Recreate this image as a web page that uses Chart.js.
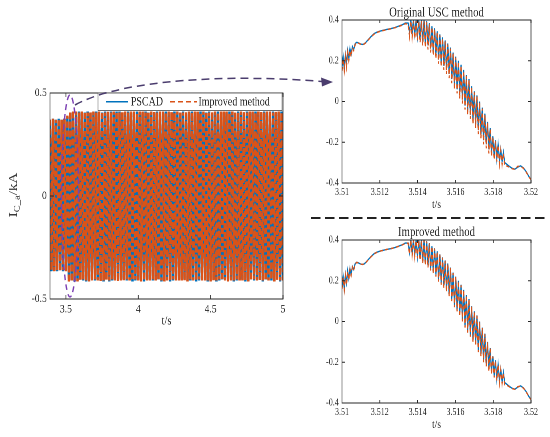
<!DOCTYPE html>
<html>
<head>
<meta charset="utf-8">
<script src="https://cdn.jsdelivr.net/npm/chart.js@4.4.1/dist/chart.umd.min.js"></script>
<style>
  html, body { margin: 0; padding: 0; background: #fff; }
  #page { position: relative; width: 550px; height: 437px; overflow: hidden; }
  .box { position: absolute; }
  .inner { transform: scaleX(0.8); transform-origin: 0 0; }
  svg { position: absolute; left: 0; top: 0; }
</style>
</head>
<body>
<div id="page">
  <div class="box" style="left:0;top:80px"><div class="inner"><canvas id="left" width="375" height="260"></canvas></div></div>
  <div class="box" style="left:290px;top:0"><div class="inner"><canvas id="zoomTop" width="325" height="218"></canvas></div></div>
  <div class="box" style="left:290px;top:220px"><div class="inner"><canvas id="zoomBottom" width="325" height="217"></canvas></div></div>
  <svg width="550" height="437">
    <ellipse cx="70" cy="196" rx="8.5" ry="101" fill="none" stroke="#7b3fb3" stroke-width="1.4" stroke-dasharray="6 4"/>
    <path d="M75,105 C110,85 200,72 322,81.5" fill="none" stroke="#4b3d6e" stroke-width="1.5" stroke-dasharray="8 5"/>
    <polygon points="333,82 321,77.5 322,86.5" fill="#4b3d6e"/>
    <line x1="311" y1="218" x2="545" y2="218" stroke="#222" stroke-width="2" stroke-dasharray="9.5 4.5"/>
  </svg>
</div>
<script>
// ---- left panel: full waveform ----
const leftTime = [
  3.39,3.40,3.41,3.42,3.43,3.44,3.45,3.46,3.47,3.48,
  3.49,3.50,3.51,3.52,3.53,3.54,3.55,3.56,3.57,3.58,
  3.59,3.60,3.61,3.62,3.63,3.64,3.65,3.66,3.67,3.68,
  3.69,3.70,3.71,3.72,3.73,3.74,3.75,3.76,3.77,3.78,
  3.79,3.80,3.81,3.82,3.83,3.84,3.85,3.86,3.87,3.88,
  3.89,3.90,3.91,3.92,3.93,3.94,3.95,3.96,3.97,3.98,
  3.99,4.00,4.01,4.02,4.03,4.04,4.05,4.06,4.07,4.08,
  4.09,4.10,4.11,4.12,4.13,4.14,4.15,4.16,4.17,4.18,
  4.19,4.20,4.21,4.22,4.23,4.24,4.25,4.26,4.27,4.28,
  4.29,4.30,4.31,4.32,4.33,4.34,4.35,4.36,4.37,4.38,
  4.39,4.40,4.41,4.42,4.43,4.44,4.45,4.46,4.47,4.48,
  4.49,4.50,4.51,4.52,4.53,4.54,4.55,4.56,4.57,4.58,
  4.59,4.60,4.61,4.62,4.63,4.64,4.65,4.66,4.67,4.68,
  4.69,4.70,4.71,4.72,4.73,4.74,4.75,4.76,4.77,4.78,
  4.79,4.80,4.81,4.82,4.83,4.84,4.85,4.86,4.87,4.88,
  4.89,4.90,4.91,4.92,4.93,4.94,4.95,4.96,4.97,4.98,
  4.99,5.00
];
const leftPscad = [
  0.37,-0.365,0.375,-0.36,0.37,-0.365,0.375,-0.36,0.37,-0.365,
  0.375,-0.36,0.385,-0.415,0.405,-0.41,0.41,-0.415,0.405,-0.41,
  0.41,-0.405,0.405,-0.41,0.405,-0.415,0.41,-0.41,0.405,-0.405,
  0.405,-0.41,0.41,-0.405,0.405,-0.41,0.405,-0.415,0.41,-0.405,
  0.405,-0.415,0.41,-0.41,0.405,-0.405,0.41,-0.41,0.41,-0.405,
  0.405,-0.405,0.405,-0.41,0.41,-0.405,0.405,-0.415,0.405,-0.41,
  0.41,-0.405,0.405,-0.41,0.405,-0.415,0.41,-0.405,0.405,-0.405,
  0.405,-0.41,0.405,-0.405,0.41,-0.405,0.405,-0.415,0.405,-0.41,
  0.41,-0.405,0.405,-0.415,0.405,-0.41,0.41,-0.405,0.405,-0.405,
  0.405,-0.405,0.41,-0.405,0.405,-0.41,0.405,-0.41,0.41,-0.405,
  0.405,-0.415,0.405,-0.41,0.41,-0.405,0.405,-0.405,0.405,-0.415,
  0.41,-0.41,0.405,-0.405,0.405,-0.415,0.41,-0.41,0.405,-0.405,
  0.405,-0.405,0.405,-0.41,0.41,-0.405,0.405,-0.415,0.405,-0.41,
  0.41,-0.405,0.405,-0.405,0.405,-0.415,0.41,-0.41,0.405,-0.405,
  0.405,-0.41,0.41,-0.405,0.405,-0.405,0.405,-0.415,0.41,-0.405,
  0.405,-0.405,0.405,-0.41,0.41,-0.41,0.405,-0.405,0.405,-0.415,
  0.41,-0.405
];
const leftImproved = [
  0.37,-0.36,0.375,-0.365,0.37,-0.36,0.375,-0.365,0.37,-0.36,
  0.375,-0.365,0.39,-0.42,0.41,-0.415,0.415,-0.41,0.41,-0.415,
  0.405,-0.41,0.41,-0.405,0.41,-0.41,0.405,-0.415,0.41,-0.41,
  0.41,-0.405,0.405,-0.41,0.41,-0.415,0.41,-0.41,0.405,-0.41,
  0.41,-0.41,0.405,-0.405,0.41,-0.41,0.41,-0.415,0.405,-0.41,
  0.41,-0.41,0.41,-0.405,0.405,-0.41,0.41,-0.41,0.41,-0.405,
  0.405,-0.41,0.41,-0.415,0.41,-0.41,0.405,-0.41,0.41,-0.41,
  0.41,-0.405,0.41,-0.41,0.405,-0.41,0.41,-0.41,0.41,-0.415,
  0.405,-0.41,0.41,-0.41,0.41,-0.405,0.405,-0.41,0.41,-0.41,
  0.41,-0.41,0.405,-0.41,0.41,-0.415,0.41,-0.405,0.405,-0.41,
  0.41,-0.41,0.41,-0.405,0.405,-0.41,0.41,-0.41,0.41,-0.41,
  0.405,-0.415,0.41,-0.41,0.41,-0.41,0.405,-0.405,0.41,-0.41,
  0.41,-0.41,0.41,-0.415,0.405,-0.41,0.41,-0.41,0.41,-0.405,
  0.405,-0.41,0.41,-0.41,0.41,-0.41,0.405,-0.415,0.41,-0.41,
  0.41,-0.405,0.405,-0.41,0.41,-0.41,0.41,-0.41,0.405,-0.41,
  0.41,-0.41,0.41,-0.405,0.405,-0.415,0.41,-0.41,0.41,-0.41,
  0.405,-0.41
];
const leftXTicks = [3.5, 4, 4.5, 5];
const leftXLabels = ['3.5', '4', '4.5', '5'];
const leftYTicks = [-0.5, 0, 0.5];
const leftYLabels = ['-0.5', '0', '0.5'];

// ---- right panels: zoom 3.51 - 3.52 s ----
const zoomTime = [
  3.51000,3.51006,3.51012,3.51018,3.51024,3.51030,3.51036,3.51042,3.51048,3.51055,
  3.51062,3.51070,3.51078,3.51086,3.51094,3.51102,3.51110,3.51118,3.51128,3.51140,
  3.51155,3.51170,3.51185,3.51200,3.51220,3.51240,3.51260,3.51280,3.51300,3.51320,
  3.51335,
  3.51350,3.51357,3.51364,3.51371,3.51378,3.51385,3.51392,3.51399,3.51406,3.51413,
  3.51420,3.51427,3.51434,3.51441,3.51448,3.51455,3.51462,3.51469,3.51476,3.51483,
  3.51490,3.51497,3.51504,3.51511,3.51518,3.51525,3.51532,3.51539,3.51546,3.51553,
  3.51560,3.51567,3.51574,3.51581,3.51588,3.51595,3.51602,3.51609,3.51616,3.51623,
  3.51630,3.51637,3.51644,3.51651,3.51658,3.51665,3.51672,3.51679,3.51686,3.51693,
  3.51700,3.51707,3.51714,3.51721,3.51728,3.51735,3.51742,3.51749,3.51756,3.51763,
  3.51770,3.51777,3.51784,3.51791,3.51798,3.51805,3.51812,3.51819,3.51826,3.51833,
  3.51840,3.51847,3.51854,3.51861,3.51868,
  3.51885,3.51900,3.51915,3.51930,3.51945,3.51960,3.51975,3.51990,3.52000
];
const zoomPscad = [
  0.17,0.22,0.16,0.23,0.19,0.25,0.21,0.26,0.23,0.27,
  0.255,0.285,0.29,0.288,0.284,0.281,0.280,0.283,0.292,0.305,
  0.320,0.333,0.340,0.345,0.350,0.354,0.358,0.363,0.370,0.377,
  0.385,
  0.385,0.34,0.40,0.335,0.40,0.33,0.40,0.32,0.40,0.31,
  0.40,0.295,0.40,0.285,0.395,0.275,0.385,0.26,0.37,0.245,
  0.36,0.23,0.345,0.205,0.33,0.19,0.315,0.175,0.30,0.155,
  0.285,0.135,0.265,0.11,0.24,0.08,0.22,0.06,0.20,0.035,
  0.18,0.01,0.155,-0.02,0.13,-0.045,0.11,-0.065,0.075,-0.09,
  0.05,-0.11,0.03,-0.14,0.0,-0.16,-0.03,-0.19,-0.06,-0.21,
  -0.10,-0.235,-0.13,-0.25,-0.17,-0.265,-0.19,-0.28,-0.21,-0.29,
  -0.235,-0.295,-0.25,-0.30,-0.305,
  -0.318,-0.328,-0.332,-0.322,-0.316,-0.326,-0.345,-0.37,-0.382
];
const zoomOriginal = [
  0.15,0.21,0.15,0.22,0.17,0.24,0.20,0.25,0.22,0.265,
  0.25,0.28,0.29,0.287,0.283,0.280,0.279,0.282,0.290,0.303,
  0.318,0.331,0.339,0.344,0.349,0.353,0.357,0.362,0.368,0.375,
  0.382,
  0.38,0.32,0.395,0.315,0.395,0.31,0.395,0.30,0.395,0.29,
  0.395,0.275,0.395,0.265,0.39,0.255,0.38,0.24,0.365,0.225,
  0.355,0.21,0.34,0.185,0.325,0.17,0.31,0.155,0.295,0.135,
  0.28,0.115,0.26,0.09,0.235,0.06,0.215,0.04,0.195,0.015,
  0.175,-0.01,0.15,-0.04,0.125,-0.065,0.105,-0.085,0.07,-0.11,
  0.045,-0.13,0.025,-0.16,-0.005,-0.18,-0.035,-0.21,-0.065,-0.23,
  -0.105,-0.255,-0.135,-0.27,-0.175,-0.285,-0.195,-0.295,-0.215,-0.305,
  -0.24,-0.31,-0.255,-0.315,-0.315,
  -0.322,-0.33,-0.333,-0.318,-0.318,-0.328,-0.347,-0.372,-0.383
];
const zoomImproved = [
  0.16,0.215,0.155,0.225,0.18,0.245,0.205,0.255,0.225,0.268,
  0.252,0.283,0.29,0.288,0.284,0.281,0.280,0.283,0.291,0.304,
  0.319,0.332,0.340,0.345,0.350,0.354,0.358,0.363,0.369,0.376,
  0.384,
  0.384,0.33,0.40,0.325,0.398,0.32,0.398,0.31,0.398,0.30,
  0.398,0.285,0.398,0.275,0.393,0.265,0.383,0.25,0.368,0.235,
  0.358,0.22,0.343,0.195,0.328,0.18,0.313,0.165,0.298,0.145,
  0.283,0.125,0.263,0.10,0.238,0.07,0.218,0.05,0.198,0.025,
  0.178,0.0,0.153,-0.03,0.128,-0.055,0.108,-0.075,0.073,-0.10,
  0.048,-0.12,0.028,-0.15,-0.002,-0.17,-0.032,-0.20,-0.062,-0.22,
  -0.102,-0.245,-0.132,-0.26,-0.172,-0.275,-0.192,-0.29,-0.212,-0.30,
  -0.237,-0.305,-0.252,-0.31,-0.31,
  -0.32,-0.329,-0.333,-0.32,-0.317,-0.327,-0.346,-0.371,-0.383
];
const zoomXTicks = [3.51, 3.512, 3.514, 3.516, 3.518, 3.52];
const zoomXLabels = ['3.51', '3.512', '3.514', '3.516', '3.518', '3.52'];
const zoomYTicks = [-0.4, -0.2, 0, 0.2, 0.4];
const zoomYLabels = ['-0.4', '-0.2', '0', '0.2', '0.4'];

const BLUE = '#0072BD';
const ORANGE = '#D95319';
const INK = '#262626';
const SERIF = '"Liberation Serif", "Times New Roman", serif';

function pts(xs, ys) {
  return xs.map((x, i) => ({ x: x, y: ys[i] }));
}

// box, inward ticks, titles and legend drawn on top of the data
function framePlugin(cfg) {
  return {
    id: 'frame',
    afterDatasetsDraw(chart) {
      const ctx = chart.ctx, a = chart.chartArea;
      const xs = chart.scales.x, ys = chart.scales.y;
      ctx.save();
      ctx.setLineDash([]);
      ctx.strokeStyle = INK;
      ctx.lineWidth = 1;
      ctx.strokeRect(a.left, a.top, a.right - a.left, a.bottom - a.top);
      ctx.beginPath();
      xs.ticks.forEach(t => {
        const p = xs.getPixelForValue(t.value);
        ctx.moveTo(p, a.bottom); ctx.lineTo(p, a.bottom - cfg.tick);
        ctx.moveTo(p, a.top); ctx.lineTo(p, a.top + cfg.tick);
      });
      ys.ticks.forEach(t => {
        const p = ys.getPixelForValue(t.value);
        ctx.moveTo(a.left, p); ctx.lineTo(a.left + cfg.tick / 0.8, p);
        ctx.moveTo(a.right, p); ctx.lineTo(a.right - cfg.tick / 0.8, p);
      });
      ctx.stroke();

      ctx.fillStyle = INK;
      ctx.textAlign = 'center';
      ctx.textBaseline = 'middle';
      const cx = (a.left + a.right) / 2;
      if (cfg.title) {
        ctx.font = cfg.title.size + 'px ' + SERIF;
        ctx.fillText(cfg.title.text, cx, cfg.title.y);
      }
      if (cfg.xTitle) {
        ctx.font = cfg.xTitle.size + 'px ' + SERIF;
        ctx.fillText(cfg.xTitle.text, cx, cfg.xTitle.y);
      }
      if (cfg.yTitle) {
        const yt = cfg.yTitle;
        ctx.save();
        ctx.fillStyle = '#3a3a3a';
        ctx.translate(yt.x, yt.y);
        ctx.rotate(-Math.PI / 2);
        ctx.textAlign = 'left';
        ctx.textBaseline = 'alphabetic';
        let w = 0;
        yt.parts.forEach(p => { ctx.font = p.size + 'px ' + SERIF; w += ctx.measureText(p.text).width; });
        let x = -w / 2;
        yt.parts.forEach(p => {
          ctx.font = p.size + 'px ' + SERIF;
          ctx.fillText(p.text, x, p.dy);
          x += ctx.measureText(p.text).width;
        });
        ctx.restore();
      }
      if (cfg.legend) {
        const L = cfg.legend;
        ctx.fillStyle = '#fff';
        ctx.fillRect(L.x, L.y, L.w, L.h);
        ctx.strokeStyle = '#444';
        ctx.lineWidth = 0.8;
        ctx.strokeRect(L.x, L.y, L.w, L.h);
        const my = L.y + L.h / 2;
        chart.data.datasets.forEach((ds, i) => {
          const it = L.items[i];
          ctx.strokeStyle = ds.borderColor;
          ctx.lineWidth = 1.5;
          ctx.setLineDash(it.dash);
          ctx.beginPath(); ctx.moveTo(it.x0, my); ctx.lineTo(it.x1, my); ctx.stroke();
          ctx.setLineDash([]);
          ctx.fillStyle = INK;
          ctx.font = L.size + 'px ' + SERIF;
          ctx.textAlign = 'left';
          ctx.fillText(ds.label, it.tx, my + 0.5);
        });
      }
      ctx.restore();
    }
  };
}

function makeChart(id, o) {
  const font = { family: SERIF, size: o.tickSize };
  return new Chart(document.getElementById(id), {
    type: 'line',
    data: {
      datasets: [
        { label: 'PSCAD', data: pts(o.time, o.blue), borderColor: BLUE, borderWidth: o.lw,
          pointRadius: 0, tension: 0, order: 2 },
        { label: 'Improved method', data: pts(o.time, o.orange), borderColor: ORANGE, borderWidth: o.lw,
          borderDash: o.dash, pointRadius: 0, tension: 0, order: 1 }
      ]
    },
    options: {
      responsive: false,
      animation: false,
      devicePixelRatio: 2,
      events: [],
      layout: { padding: o.padding },
      plugins: { legend: { display: false }, tooltip: { enabled: false } },
      scales: {
        x: {
          type: 'linear', min: o.xMin, max: o.xMax,
          afterFit: s => { s.height = o.xHeight; },
          afterBuildTicks: s => { s.ticks = o.xTicks.map(v => ({ value: v })); },
          grid: { display: false, drawTicks: false },
          border: { display: false },
          ticks: { padding: o.xPad, font: font, color: INK, autoSkip: false, maxRotation: 0,
                   callback: (v, i) => o.xLabels[i] }
        },
        y: {
          type: 'linear', min: o.yMin, max: o.yMax,
          afterFit: s => { s.width = o.yWidth; },
          afterBuildTicks: s => { s.ticks = o.yTicks.map(v => ({ value: v })); },
          grid: { display: false, drawTicks: false },
          border: { display: false },
          ticks: { padding: 4, font: font, color: INK, autoSkip: false,
                   callback: (v, i) => o.yLabels[i] }
        }
      }
    },
    plugins: [framePlugin(o.frame)]
  });
}

makeChart('left', {
  time: leftTime, blue: leftPscad, orange: leftImproved,
  lw: 3, dash: [6, 3], tickSize: 12,
  xMin: 3.39, xMax: 5, yMin: -0.5, yMax: 0.5,
  xTicks: leftXTicks, xLabels: leftXLabels, yTicks: leftYTicks, yLabels: leftYLabels,
  padding: { left: 0, top: 13, right: 21.25, bottom: 0 }, xHeight: 41, yWidth: 62.5, xPad: 3,
  frame: {
    tick: 4,
    xTitle: { text: 't/s', size: 13, y: 241 },
    yTitle: { x: 21, y: 115, parts: [
      { text: 'I', size: 15, dy: 0 },
      { text: 'C_a', size: 10.5, dy: 3.5 },
      { text: '/kA', size: 15, dy: 0 }
    ] },
    legend: { x: 122.5, y: 13, w: 230, h: 17.5, size: 12.5, items: [
      { x0: 132.5, x1: 160, tx: 163.5, dash: [] },
      { x0: 212.5, x1: 246, tx: 248, dash: [6, 4] }
    ] }
  }
});

const zoomCommon = {
  time: zoomTime, blue: zoomPscad,
  lw: 1.4, dash: [4, 3], tickSize: 10,
  xMin: 3.51, xMax: 3.52, yMin: -0.4, yMax: 0.4,
  xTicks: zoomXTicks, xLabels: zoomXLabels, yTicks: zoomYTicks, yLabels: zoomYLabels,
  yWidth: 65, xPad: 3.5
};

makeChart('zoomTop', Object.assign({}, zoomCommon, {
  orange: zoomOriginal,
  padding: { left: 0, top: 20, right: 23.75, bottom: 0 }, xHeight: 35,
  frame: { tick: 3, title: { text: 'Original USC method', size: 13.5, y: 13 }, xTitle: { text: 't/s', size: 12, y: 205 } }
}));

makeChart('zoomBottom', Object.assign({}, zoomCommon, {
  orange: zoomImproved,
  padding: { left: 0, top: 20, right: 23.75, bottom: 0 }, xHeight: 34,
  frame: { tick: 3, title: { text: 'Improved method', size: 13.5, y: 12.7 }, xTitle: { text: 't/s', size: 12, y: 205 } }
}));
</script>
</body>
</html>
